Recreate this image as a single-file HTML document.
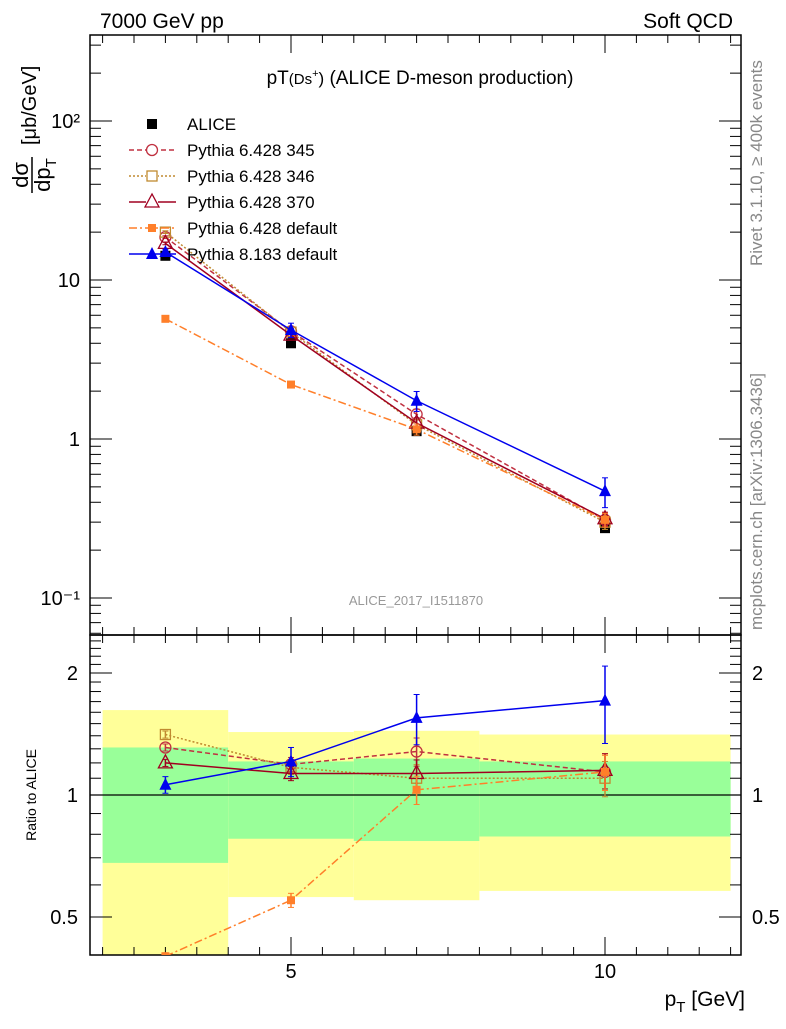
<!DOCTYPE html>
<html><head><meta charset="utf-8"><style>
body{margin:0;background:#fff;width:786px;height:1024px;overflow:hidden}
svg{font-family:"Liberation Sans",sans-serif}
</style></head><body>
<svg id="c" width="786" height="1024" xmlns="http://www.w3.org/2000/svg">
<text x="100" y="28" font-size="21">7000 GeV pp</text>
<text x="733" y="28" font-size="21" text-anchor="end">Soft QCD</text>
<text x="420" y="84" font-size="19" text-anchor="middle">pT<tspan font-size="15">(Ds</tspan><tspan font-size="11" dy="-7">+</tspan><tspan font-size="17" dy="7">)</tspan> (ALICE D-meson production)</text>
<text x="416" y="605" font-size="13" fill="#999" text-anchor="middle">ALICE_2017_I1511870</text>
<text transform="translate(762,266) rotate(-90)" font-size="17" fill="#888">Rivet 3.1.10, ≥ 400k events</text>
<text transform="translate(762,630) rotate(-90)" font-size="17" fill="#888">mcplots.cern.ch [arXiv:1306.3436]</text>
<g transform="translate(28,175) rotate(-90)">
<text x="0" y="0" font-size="22" text-anchor="middle">dσ</text>
<line x1="-18" y1="4" x2="18" y2="4" stroke="#000" stroke-width="1.5"/>
<text x="0" y="22" font-size="22" text-anchor="middle">dp<tspan font-size="15" dy="6">T</tspan></text>
<text x="30" y="8" font-size="20">[μb/GeV]</text>
</g>
<text transform="translate(36,795) rotate(-90)" font-size="14" text-anchor="middle">Ratio to ALICE</text>
<text x="745" y="1006" font-size="21" text-anchor="end">p<tspan font-size="15" dy="6">T</tspan><tspan dy="-6"> [GeV]</tspan></text>
<g id="g"></g>
</svg>
<script>
const xCats=[3,5,7,10];
const aliceVals=[14.2,4.0,1.12,0.275];
const p345=[18.6,4.76,1.43,0.31];
const p346=[20.0,4.7,1.23,0.30];
const p370=[17.0,4.5,1.26,0.315];
const p6def=[5.7,2.2,1.15,0.31];
const p8=[15.0,4.85,1.74,0.47];
const p8Err=[0.6,0.5,0.25,0.1];
const r345=[1.31,1.19,1.28,1.14];
const r346=[1.41,1.17,1.10,1.10];
const r370=[1.20,1.13,1.13,1.15];
const r6def=[0.40,0.55,1.03,1.14];
const r8=[1.06,1.21,1.55,1.71];
const r8Err=[0.05,0.1,0.22,0.37];
const binEdges=[2,4,6,8,12];
const bandYellowHi=[1.62,1.43,1.44,1.41];
const bandYellowLo=[0.3,0.56,0.55,0.58];
const bandGreenHi=[1.31,1.21,1.23,1.21];
const bandGreenLo=[0.68,0.78,0.77,0.79];
const mainTicks=[[100,"10²"],[10,"10"],[1,"1"],[0.1,"10⁻¹"]];
const ratioTicks=[2,1,0.5];
const xTicks=[5,10];

const NS="http://www.w3.org/2000/svg";
const G=document.getElementById('g');
const L=90,R=741,T=35,MB=635,RB=955;
const X=v=>291+62.8*(v-5);
const Y=v=>439-159*Math.log10(v);
const YR=v=>795-405.3*Math.log10(v);
function mk(t,a,p){const e=document.createElementNS(NS,t);for(const k in a)e.setAttribute(k,a[k]);(p||G).appendChild(e);return e;}

const defs=mk('defs',{});
const cp1=mk('clipPath',{id:'cm'},defs);mk('rect',{x:L,y:T,width:R-L,height:MB-T},cp1);
const cp2=mk('clipPath',{id:'cr'},defs);mk('rect',{x:L,y:MB,width:R-L,height:RB-MB},cp2);

const bands=mk('g',{'clip-path':'url(#cr)'});


for(let i=0;i<4;i++){
 const x0=X(binEdges[i]),x1=X(binEdges[i+1]);
 const y1=mk('rect',{x:x0,y:YR(bandYellowHi[i]),width:x1-x0,height:YR(bandYellowLo[i])-YR(bandYellowHi[i]),fill:'#ffff99'},bands);
 
 
 const g1=mk('rect',{x:x0,y:YR(bandGreenHi[i]),width:x1-x0,height:YR(bandGreenLo[i])-YR(bandGreenHi[i]),fill:'#99ff99'},bands);
 
 
}
mk('line',{x1:L,x2:R,y1:YR(1),y2:YR(1),stroke:'#000','stroke-width':1.2});

mk('rect',{x:L,y:T,width:R-L,height:MB-T,fill:'none',stroke:'#000','stroke-width':1.5});
mk('rect',{x:L,y:MB,width:R-L,height:RB-MB,fill:'none',stroke:'#000','stroke-width':1.5});

for(let d=-2;d<3;d++){for(let m=1;m<10;m++){const v=m*Math.pow(10,d);const y=Y(v);if(y<T||y>MB)continue;const len=m==1?22:11;
 mk('line',{x1:L,x2:L+len,y1:y,y2:y,stroke:'#000'});mk('line',{x1:R,x2:R-len,y1:y,y2:y,stroke:'#000'});}}
mainTicks.forEach(t=>{const e=mk('text',{x:80,y:Y(t[0])+7,'font-size':20,'text-anchor':'end'});e.textContent=t[1];
 
 });
for(let v=0.4;v<=2.45;v+=0.1){const vv=Math.round(v*10)/10;const y=YR(vv);if(y<MB||y>RB)continue;const maj=(vv==0.5||vv==1||vv==2);const len=maj?22:11;
 mk('line',{x1:L,x2:L+len,y1:y,y2:y,stroke:'#000'});mk('line',{x1:R,x2:R-len,y1:y,y2:y,stroke:'#000'});}
ratioTicks.forEach(v=>{const a=mk('text',{x:78,y:YR(v)+7,'font-size':20,'text-anchor':'end'});a.textContent=v;
 
 
 const b=mk('text',{x:752,y:YR(v)+7,'font-size':20});b.textContent=v;
 
 });
for(let v=2;v<=12;v+=0.5){const x=X(v);if(x<L||x>R)continue;const maj=(v==5||v==10);const len=maj?18:8;
 [T,MB].forEach(yy=>mk('line',{x1:x,x2:x,y1:yy,y2:yy+len,stroke:'#000'}));
 [MB,RB].forEach(yy=>mk('line',{x1:x,x2:x,y1:yy,y2:yy-len,stroke:'#000'}));}
xTicks.forEach(v=>{const e=mk('text',{x:X(v),y:978,'font-size':20,'text-anchor':'middle'});e.textContent=v;
 
 });

function marker(p,type,x,y,col){
 if(type=='sq')mk('rect',{x:x-5,y:y-5,width:10,height:10,fill:col},p);
 if(type=='osq')mk('rect',{x:x-5,y:y-5,width:10,height:10,fill:'none',stroke:col,'stroke-width':1.3},p);
 if(type=='ssq')mk('rect',{x:x-4,y:y-4,width:8,height:8,fill:col},p);
 if(type=='oc')mk('circle',{cx:x,cy:y,r:5.5,fill:'none',stroke:col,'stroke-width':1.3},p);
 if(type=='otri')mk('polygon',{points:`${x},${y-8} ${x-7},${y+5} ${x+7},${y+5}`,fill:'none',stroke:col,'stroke-width':1.3},p);
 if(type=='tri')mk('polygon',{points:`${x},${y-7} ${x-6},${y+5} ${x+6},${y+5}`,fill:col},p);
}
const relErr=[0.02,0.04,0.08,0.1];
const series=[
 {name:'Pythia 6.428 345',m:p345,r:r345,col:'#c03040',dash:'5,3',type:'oc',dn:'series-pythia6-345'},
 {name:'Pythia 6.428 346',m:p346,r:r346,col:'#c08a30',dash:'2,2',type:'osq',dn:'series-pythia6-346'},
 {name:'Pythia 6.428 370',m:p370,r:r370,col:'#a00020',dash:'',type:'otri',dn:'series-pythia6-370'},
 {name:'Pythia 6.428 default',m:p6def,r:r6def,col:'#ff7f2a',dash:'8,3,2,3',type:'ssq',dn:'series-pythia6-default'},
 {name:'Pythia 8.183 default',m:p8,r:r8,col:'#0000ee',dash:'',type:'tri',dn:'series-pythia8-default',me:p8Err,re:r8Err}
];
const ad=mk('g',{});


aliceVals.forEach((v,i)=>marker(ad,'sq',X(xCats[i]),Y(v),'#000'));

series.forEach(s=>{
 ['m','r'].forEach(k=>{
  const F=k=='m'?Y:YR;
  const g=mk('g',{'clip-path':k=='m'?'url(#cm)':'url(#cr)'});
  
  
  const pts=s[k].map((v,i)=>X(xCats[i])+','+F(v)).join(' ');
  mk('polyline',{points:pts,fill:'none',stroke:s.col,'stroke-width':1.5,'stroke-dasharray':s.dash},g);
  const err=s[k+'e'];
  s[k].forEach((v,i)=>{const x=X(xCats[i]);
   const e=err?err[i]:v*relErr[i];
   const y1=F(v+e),y2=F(Math.max(v-e,0.01));
   mk('line',{x1:x,x2:x,y1:y1,y2:y2,stroke:s.col,'stroke-width':1.5},g);
   mk('line',{x1:x-3,x2:x+3,y1:y1,y2:y1,stroke:s.col},g);mk('line',{x1:x-3,x2:x+3,y1:y2,y2:y2,stroke:s.col},g);
   marker(g,s.type,x,F(v),s.col);});
 });
});

const lg=mk('g',{});


const names=['ALICE'].concat(series.map(s=>s.name));
names.forEach((n,i)=>{const y=124+i*26;
 const e=mk('g',{},lg);
 
 
 if(i==0)marker(e,'sq',152,y,'#000');
 else{const s=series[i-1];mk('line',{x1:129,x2:176,y1:y,y2:y,stroke:s.col,'stroke-width':1.5,'stroke-dasharray':s.dash},e);
  if(s.type=='oc'||s.type=='osq'||s.type=='otri')mk('rect',{x:146,y:y-6,width:12,height:12,fill:'#fff'},e);
  marker(e,s.type,152,y,s.col);}
 const t=mk('text',{x:187,y:y+6,'font-size':17},e);t.textContent=n;});
</script>
</body></html>
